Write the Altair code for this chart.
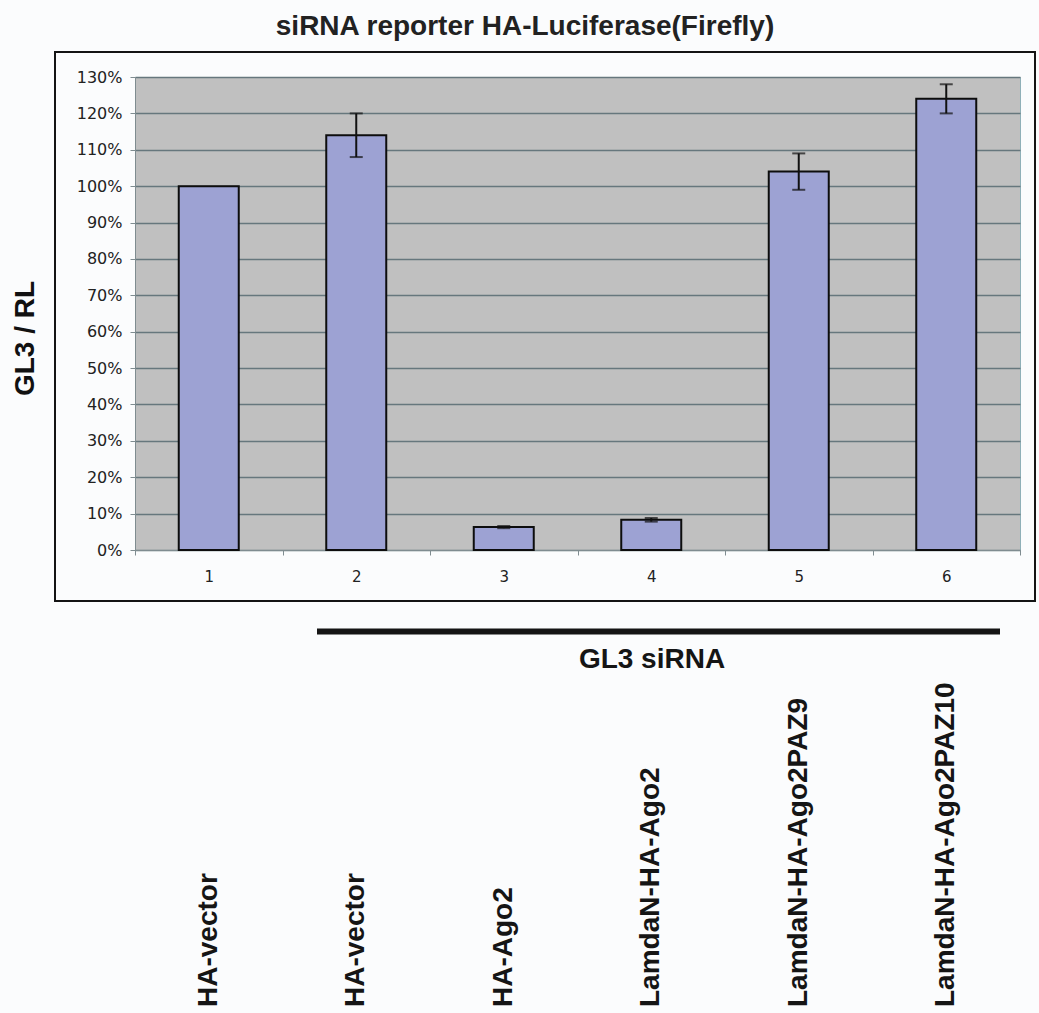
import altair as alt
import pandas as pd

# Lane numbers, reporter ratio (GL3 / RL, in %) and standard error per lane
lanes = ["1", "2", "3", "4", "5", "6"]
ratio_pct = [100, 114, 6.3, 8.3, 104, 124]
error_pct = [0, 6, 0.3, 0.5, 5, 4]
constructs = [
    "HA-vector",
    "HA-vector",
    "HA-Ago2",
    "LamdaN-HA-Ago2",
    "LamdaN-HA-Ago2PAZ9",
    "LamdaN-HA-Ago2PAZ10",
]
y_ticks = [0, 0.1, 0.2, 0.3, 0.4, 0.5, 0.6, 0.7, 0.8, 0.9, 1.0, 1.1, 1.2, 1.3]

title_text = "siRNA reporter HA-Luciferase(Firefly)"
y_title = "GL3 / RL"
group_label = "GL3 siRNA"

df = pd.DataFrame({
    "lane": lanes,
    "ratio": [v / 100 for v in ratio_pct],
    "err": [e / 100 for e in error_pct],
    "construct": constructs,
})
df["lo"] = df["ratio"] - df["err"]
df["hi"] = df["ratio"] + df["err"]

one = pd.DataFrame({"k": [0]})

W, H = 885, 473
SANS = "Liberation Sans"

x_axis = alt.Axis(
    title=None, labelAngle=0, tickBand="extent", tickSize=5,
    tickColor="#7f8c90", domainColor="#7f8c90", labelPadding=14,
    labelFont="DejaVu Sans", labelFontSize=15, labelColor="#222222",
)
x_scale = alt.Scale(paddingInner=0, paddingOuter=0)

y_axis = alt.Axis(
    values=y_ticks, format=".0%", grid=True, gridColor="#66777d",
    gridWidth=1.3, domainColor="#7f8c90", tickColor="#7f8c90",
    tickSize=5, labelPadding=8, labelFont="DejaVu Sans",
    labelFontSize=16, labelColor="#222222", labelOverlap=False,
    title=y_title, titleFont=SANS, titleFontSize=28,
    titleFontWeight="bold", titleColor="#111111",
    titleX=-110, titleY=261, titleAngle=270,
    titleAlign="center", titleBaseline="middle",
)
y_scale = alt.Scale(domain=[0, 1.3], nice=False)


def xenc():
    return alt.X("lane:O", sort=lanes, scale=x_scale, axis=x_axis)


def yenc(field):
    return alt.Y(f"{field}:Q", scale=y_scale, axis=y_axis)


bars = alt.Chart(df).mark_bar(
    size=60, color="#9da2d3", stroke="#0d0d0d", strokeWidth=2
).encode(x=xenc(), y=yenc("ratio"))

err_src = alt.Chart(df).transform_filter("datum.err > 0")

err_rule = err_src.mark_rule(color="#111111", strokeWidth=2).encode(
    x=xenc(), y=yenc("lo"), y2="hi:Q"
)
cap_hi = err_src.mark_tick(color="#111111", thickness=2, size=13).encode(
    x=xenc(), y=yenc("hi")
)
cap_lo = err_src.mark_tick(color="#111111", thickness=2, size=13).encode(
    x=xenc(), y=yenc("lo")
)

# outer chart frame
frame = alt.Chart(one).mark_rect(
    fill="white", fillOpacity=0, stroke="#141414", strokeWidth=2
).encode(
    x=alt.value(-80), x2=alt.value(900), y=alt.value(-25), y2=alt.value(524)
)

title = alt.Chart(one).mark_text(
    text=title_text, font=SANS, fontSize=28, fontWeight="bold",
    color="#222222", align="center", baseline="middle",
).encode(x=alt.value(390), y=alt.value(-50))

# bar marking the siRNA-treated lanes
bracket = alt.Chart(one).mark_rule(color="#151515", strokeWidth=6).encode(
    x=alt.value(182), x2=alt.value(865), y=alt.value(554.5)
)
bracket_label = alt.Chart(one).mark_text(
    text=group_label, font=SANS, fontSize=28, fontWeight="bold",
    color="#151515", align="center", baseline="middle",
).encode(x=alt.value(517), y=alt.value(583))

construct_labels = alt.Chart(df).mark_text(
    font=SANS, fontSize=28, fontWeight="bold", color="#151515",
    angle=270, align="left", baseline="middle",
).encode(x=xenc(), y=alt.value(930), text="construct:N")

chart = alt.layer(
    bars, err_rule, cap_hi, cap_lo, frame, title, bracket, bracket_label,
    construct_labels,
).properties(
    width=W,
    height=H,
    autosize=alt.AutoSizeParams(type="none"),
    padding={"left": 135, "top": 77, "right": 19, "bottom": 463},
    background="#fbfcfd",
).configure_view(fill="#c0c0c0", stroke="#8fb0b8", strokeWidth=1)

chart.save("out.html", embed_options={"renderer": "svg", "actions": False})
